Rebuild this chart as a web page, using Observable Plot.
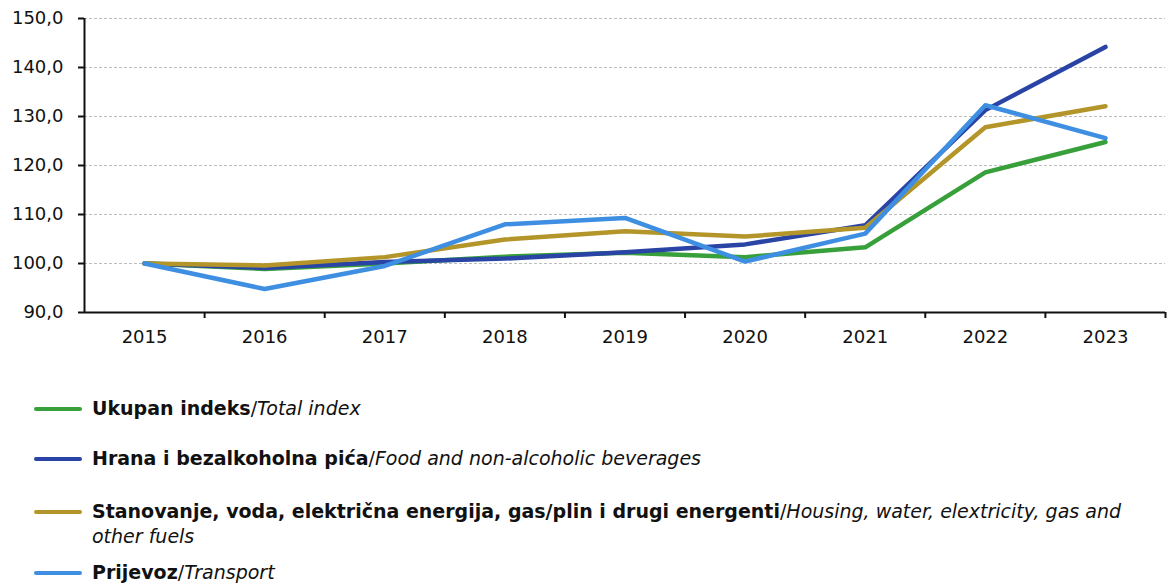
<!DOCTYPE html>
<html>
<head>
<meta charset="utf-8">
<script src="https://cdn.jsdelivr.net/npm/d3@7"></script>
<script src="https://cdn.jsdelivr.net/npm/@observablehq/plot@0.6"></script>
<style>
  body { margin: 0; background: #fff; font-family: "DejaVu Sans", sans-serif; }
  #wrap { position: relative; width: 1167px; height: 583px; }
  #chart { position: absolute; left: 0; top: 0; }
  #chart svg text { font-size: 18px !important; }
  .item { position: absolute; left: 34px; display: flex; align-items: flex-start; font-size: 19px; line-height: 25px; color: #111; white-space: nowrap; }
  .sw { width: 48px; height: 4px; border-radius: 2px; margin-top: 11px; margin-right: 10px; flex: none; }
  .item b { font-weight: bold; }
  .item i { font-style: italic; }
</style>
</head>
<body>
<div id="wrap">
  <div id="chart"></div>
  <div id="legend"></div>
</div>
<script>
const years = ["2015","2016","2017","2018","2019","2020","2021","2022","2023"];
const totalIndex = [100.0, 98.9, 100.0, 101.4, 102.2, 101.3, 103.3, 118.6, 124.8];
const foodBev    = [100.0, 99.1, 100.3, 101.0, 102.3, 103.9, 107.8, 131.3, 144.2];
const housing    = [100.0, 99.6, 101.3, 104.9, 106.6, 105.5, 107.3, 127.8, 132.1];
const transport  = [100.0, 94.8, 99.5, 108.0, 109.3, 100.4, 106.1, 132.3, 125.6];
const yTicks = [90, 100, 110, 120, 130, 140, 150];

const seriesNames = [
  ["Ukupan indeks", "Total index"],
  ["Hrana i bezalkoholna pića", "Food and non-alcoholic beverages"],
  ["Stanovanje, voda, električna energija, gas/plin i drugi energenti", "Housing, water, elextricity, gas and", "other fuels"],
  ["Prijevoz", "Transport"]
];
const colors = ["#37a03a", "#2a44a6", "#b3952a", "#3e8fe2"];
const seriesValues = [totalIndex, foodBev, housing, transport];

const data = [];
seriesValues.forEach((vals, s) => vals.forEach((v, i) => data.push({s, i, v})));
const idx = years.map((_, i) => i);
const bounds = years.map((_, i) => i + 0.5);

const fmt = d => d.toFixed(1).replace(".", ",");

const chart = Plot.plot({
  width: 1167,
  height: 360,
  marginLeft: 84,
  marginRight: 2,
  marginTop: 18,
  marginBottom: 48,
  style: { fontFamily: "DejaVu Sans, sans-serif", fontSize: "18px", color: "#111", background: "#fff" },
  x: { type: "linear", domain: [-0.5, 8.5] },
  y: { domain: [90, 150] },
  marks: [
    Plot.gridY(yTicks.filter(d => d > 90), { stroke: "#bdbdbd", strokeOpacity: 1, strokeDasharray: "3,2", strokeWidth: 1 }),
    Plot.axisY(yTicks, { tickSize: 6, tickPadding: 15, tickFormat: fmt, stroke: "#111", strokeWidth: 2, label: null, fontSize: 18 }),
    Plot.axisX(idx, { tickSize: 0, tickPadding: 18, tickFormat: i => years[i], label: null, fontSize: 18 }),
    Plot.axisX(bounds, { tickSize: 6, tickFormat: () => "", stroke: "#111", strokeWidth: 2, label: null }),
    ...seriesValues.map((vals, s) =>
      Plot.line(data.filter(d => d.s === s), { x: "i", y: "v", stroke: colors[s], strokeWidth: 4.5, strokeLinejoin: "round", strokeLinecap: "round" })
    ),
    Plot.ruleY([90], { stroke: "#111", strokeWidth: 2 }),
    Plot.ruleX([-0.5], { stroke: "#111", strokeWidth: 2 })
  ]
});
document.getElementById("chart").appendChild(chart);

const tops = [396, 446, 499, 560];
const legend = document.getElementById("legend");
seriesNames.forEach((n, s) => {
  const div = document.createElement("div");
  div.className = "item";
  div.style.top = tops[s] + "px";
  const sw = document.createElement("div");
  sw.className = "sw";
  sw.style.background = colors[s];
  const txt = document.createElement("div");
  let html = "<b>" + n[0] + "</b>/<i>" + n[1] + "</i>";
  if (n[2]) html += "<br><i>" + n[2] + "</i>";
  txt.innerHTML = html;
  div.appendChild(sw);
  div.appendChild(txt);
  legend.appendChild(div);
});
</script>
</body>
</html>
